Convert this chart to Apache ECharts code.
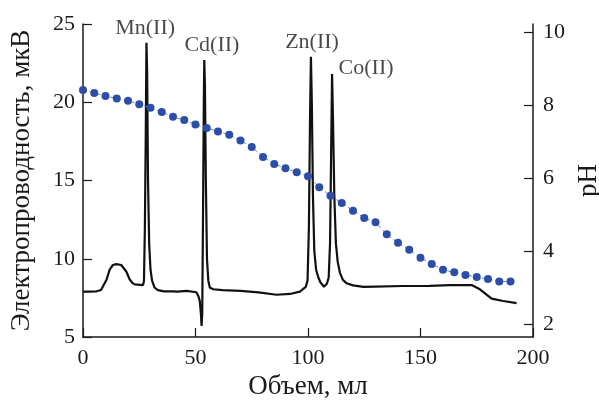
<!DOCTYPE html>
<html>
<head>
<meta charset="utf-8">
<script src="https://cdn.jsdelivr.net/npm/echarts@6/dist/echarts.min.js"></script>
<style>
  html, body { margin: 0; padding: 0; background: #fff; }
  #chart { width: 599px; height: 402px; }
</style>
</head>
<body>
<div id="chart"></div>
<script>
// conductivity trace (volume, ml -> microvolts)
const condVolume = [
  0, 3, 6, 8, 10.4, 11.9, 13.3, 14.8, 17, 19.3, 20.7, 22, 23, 26.7,
  27.1, 27.5, 27.9, 28.2, 28.5, 28.9, 29.4, 30, 30.7, 31.8, 33.3, 36, 40, 40.5, 42, 46,
  50.4, 51.3, 51.9, 52.4, 52.7, 53.0, 53.3, 53.7, 53.9, 54.2, 54.6, 55.1, 55.7, 56.4,
  58, 62, 70, 78, 86, 92, 96.4, 99, 99.8, 100.4, 100.9, 101.3, 101.7, 102.2, 102.8,
  103.6, 104.6, 105.5, 107.1, 108.4, 109.2, 109.8, 110.3, 110.7, 111.1, 111.7, 112.4,
  113.2, 114.2, 115.5, 117.2, 120, 124.6, 130, 142, 154, 163, 172.7, 176.4, 181.6,
  186.8, 192.7
];
const condValue = [
  7.9, 7.9, 7.92, 8.0, 8.64, 9.32, 9.6, 9.66, 9.6, 9.17, 8.69, 8.45, 8.36, 8.32,
  8.6, 12, 18, 23.8, 22, 15, 11, 9.3, 8.6, 8.15, 8.0, 7.92, 7.92, 7.85, 7.9, 7.95,
  7.86, 7.6, 7.3, 6.5, 5.7, 6.5, 12, 20, 22.7, 21, 15, 10, 8.6, 8.15,
  8.05, 8.0, 7.95, 7.85, 7.7, 7.75, 7.9, 8.2, 8.6, 12, 19, 22.9, 20, 14, 10.5,
  9.3, 8.8, 8.5, 8.21, 8.4, 8.8, 11, 17, 21.8, 19, 14, 11,
  9.8, 9.1, 8.65, 8.43, 8.3, 8.2, 8.22, 8.26, 8.27, 8.32, 8.32, 8.05, 7.45,
  7.3, 7.17
];

// pH readings every 5 ml
const phVolume = [
  0, 5, 10, 15, 20, 25, 30, 35, 40, 45, 50, 55, 60, 65, 70, 75, 80, 85, 90, 95,
  100, 105, 110, 115, 120, 125, 130, 135, 140, 145, 150, 155, 160, 165, 170, 175,
  180, 185, 190
];
const phValue = [
  8.41, 8.33, 8.25, 8.18, 8.12, 8.02, 7.93, 7.81, 7.68, 7.59, 7.47, 7.37, 7.28,
  7.19, 7.03, 6.85, 6.58, 6.39, 6.27, 6.16, 6.05, 5.75, 5.52, 5.32, 5.11, 4.91,
  4.79, 4.46, 4.23, 4.04, 3.82, 3.65, 3.49, 3.42, 3.35, 3.29, 3.24, 3.17, 3.17
];

// peak annotations
const peakNames = ["Mn(II)", "Cd(II)", "Zn(II)", "Co(II)"];
const peakVolume = [27.6, 57.3, 101.8, 125.8];
const peakLevel = [24.7, 23.66, 23.85, 22.2];

const phTicks = [2, 4, 6, 8, 10];

const font = "Liberation Serif";
const ink = "#1a1a1a";

const zip = (a, b) => a.map((v, i) => [v, b[i]]);

const chart = echarts.init(document.getElementById("chart"));
chart.setOption({
  animation: false,
  grid: { left: 83, right: 66, top: 24, bottom: 65, outerBoundsMode: "none", containLabel: false },
  xAxis: {
    type: "value",
    min: 0,
    max: 200,
    interval: 50,
    name: "Объем, мл",
    nameLocation: "middle",
    nameGap: 36,
    nameTextStyle: { fontFamily: font, fontSize: 27, color: ink },
    axisLine: { lineStyle: { color: ink, width: 1.5 } },
    axisTick: { inside: true, length: 9, lineStyle: { color: ink, width: 1.2 } },
    axisLabel: { fontFamily: font, fontSize: 22, color: ink, margin: 10 },
    splitLine: { show: false },
  },
  yAxis: [
    {
      type: "value",
      min: 5,
      max: 25,
      interval: 5,
      name: "Электропроводность, мкВ",
      nameLocation: "middle",
      nameRotate: 90,
      nameGap: 48,
      nameTextStyle: { fontFamily: font, fontSize: 27, color: ink },
      axisLine: { show: true, lineStyle: { color: ink, width: 1.5 } },
      axisTick: { show: true, inside: true, length: 9, lineStyle: { color: ink, width: 1.2 } },
      axisLabel: { fontFamily: font, fontSize: 22, color: ink, margin: 8 },
      splitLine: { show: false },
    },
    {
      type: "value",
      min: 1.65,
      max: 10.22,
      position: "right",
      name: "pH",
      nameLocation: "middle",
      nameRotate: 90,
      nameGap: 41,
      nameTextStyle: { fontFamily: font, fontSize: 27, color: ink },
      axisLine: { show: true, lineStyle: { color: ink, width: 1.5 } },
      axisTick: {
        show: true, inside: true, length: 9, customValues: phTicks,
        lineStyle: { color: ink, width: 1.2 },
      },
      axisLabel: { fontFamily: font, fontSize: 22, color: ink, margin: 10, customValues: phTicks },
      splitLine: { show: false },
    },
  ],
  series: [
    {
      name: "conductivity",
      type: "line",
      data: zip(condVolume, condValue),
      showSymbol: false,
      symbol: "none",
      lineStyle: { color: "#111", width: 2.2 },
      z: 2,
    },
    {
      name: "pH",
      type: "line",
      yAxisIndex: 1,
      data: zip(phVolume, phValue),
      symbol: "circle",
      symbolSize: 8,
      itemStyle: { color: "#2d4ea8" },
      lineStyle: { color: "#6a82c6", width: 1, type: [4, 3] },
      z: 3,
    },
    {
      name: "labels",
      type: "scatter",
      symbolSize: 0,
      data: peakNames.map((n, i) => ({ name: n, value: [peakVolume[i], peakLevel[i]] })),
      label: {
        show: true,
        position: "inside",
        formatter: "{b}",
        fontFamily: font,
        fontSize: 22,
        color: ink,
      },
      silent: true,
    },
  ],
});
</script>
</body>
</html>
